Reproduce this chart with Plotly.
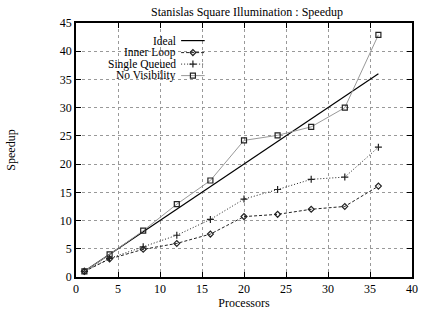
import plotly.graph_objects as go

processors = [1, 4, 8, 12, 16, 20, 24, 28, 32, 36]
ideal_x = [1, 36]
ideal_y = [1, 36]
inner_loop = [1, 3.2, 4.9, 5.95, 7.6, 10.7, 11.1, 12.0, 12.5, 16.1]
single_queued = [1, 3.3, 5.35, 7.4, 10.2, 13.8, 15.5, 17.3, 17.7, 23.0]
no_visibility = [1, 4.0, 8.2, 12.9, 17.1, 24.2, 25.1, 26.6, 30.0, 42.9]

names = ["Ideal", "Inner Loop", "Single Queued", "No Visibility"]
FONT = "Liberation Serif, Times New Roman, serif"
FS = 12

fig = go.Figure()

styles = {
    "Ideal": dict(mode="lines", line=dict(color="black", width=1.2)),
    "Inner Loop": dict(mode="lines+markers", line=dict(color="#222", width=1, dash="3px,2px"),
                       marker=dict(symbol="diamond-open", size=4.5, color="#222", line=dict(width=1.2))),
    "Single Queued": dict(mode="lines+markers", line=dict(color="#222", width=1, dash="1px,2px"),
                          marker=dict(symbol="cross-thin-open", size=5, color="#222", line=dict(width=1.2))),
    "No Visibility": dict(mode="lines+markers", line=dict(color="#999", width=1),
                          marker=dict(symbol="square-open", size=5, color="#222", line=dict(width=1.2))),
}

fig.add_trace(go.Scatter(x=ideal_x, y=ideal_y, showlegend=False, **styles["Ideal"]))
fig.add_trace(go.Scatter(x=processors, y=inner_loop, showlegend=False, **styles["Inner Loop"]))
fig.add_trace(go.Scatter(x=processors, y=single_queued, showlegend=False, **styles["Single Queued"]))
fig.add_trace(go.Scatter(x=processors, y=no_visibility, showlegend=False, **styles["No Visibility"]))

# gnuplot-style key: text right-aligned, sample to the right
W, H = 424, 314
L, R, T, B = 76, 6, 23, 37
pw, ph = W - L - R, H - T - B
key_rows = [40.6, 52.6, 64.1, 75.6]
text_right = 179
s0, s1 = 183, 207
for name, yp in zip(names, key_rows):
    yy = 1 - (yp - T) / ph
    x_t = (text_right - L) / pw
    fig.add_annotation(x=x_t, y=yy, xref="paper", yref="paper", text=name, showarrow=False,
                       xanchor="right", yanchor="middle", font=dict(family=FONT, size=11.5, color="black"),
                       borderpad=0)
    st = dict(styles[name])
    xs = [(s0 - L) / pw, (s1 - L) / pw]
    if name == "Ideal":
        fig.add_trace(go.Scatter(x=xs, y=[yy, yy], xaxis="x2", yaxis="y2", showlegend=False,
                                 hoverinfo="skip", **st))
    else:
        fig.add_trace(go.Scatter(x=xs, y=[yy, yy], xaxis="x2", yaxis="y2", showlegend=False,
                                 hoverinfo="skip", mode="lines", line=st["line"]))
        fig.add_trace(go.Scatter(x=[sum(xs) / 2], y=[yy], xaxis="x2", yaxis="y2", showlegend=False,
                                 hoverinfo="skip", mode="markers", marker=st["marker"]))

axis_common = dict(showline=True, linecolor="black", linewidth=1.5, mirror="ticks",
                   ticks="inside", ticklen=5, tickcolor="black",
                   showgrid=True, gridcolor="#999", griddash="dot", gridwidth=1,
                   zeroline=False, tickfont=dict(family=FONT, size=FS, color="black"))

fig.update_layout(
    width=W, height=H,
    margin=dict(l=L, r=R, t=T, b=B),
    paper_bgcolor="white", plot_bgcolor="white",
    font=dict(family=FONT, size=FS, color="black"),
    title=dict(text="Stanislas Square Illumination : Speedup", x=(L + pw / 2) / W, xanchor="center",
               y=1 - 12 / H, yanchor="middle", font=dict(family=FONT, size=FS)),
    xaxis=dict(range=[0, 40], dtick=5, title=dict(text="Processors", standoff=2,
               font=dict(family=FONT, size=FS)), **axis_common),
    yaxis=dict(range=[0, 45], dtick=5, title=dict(text="Speedup", standoff=42,
               font=dict(family=FONT, size=FS)), **axis_common),
    xaxis2=dict(range=[0, 1], overlaying="x", visible=False, fixedrange=True),
    yaxis2=dict(range=[0, 1], overlaying="y", visible=False, fixedrange=True),
)

fig.write_html("out.html", config={"displayModeBar": False},
               post_script="document.body.style.margin='0';document.body.style.overflow='hidden';")
